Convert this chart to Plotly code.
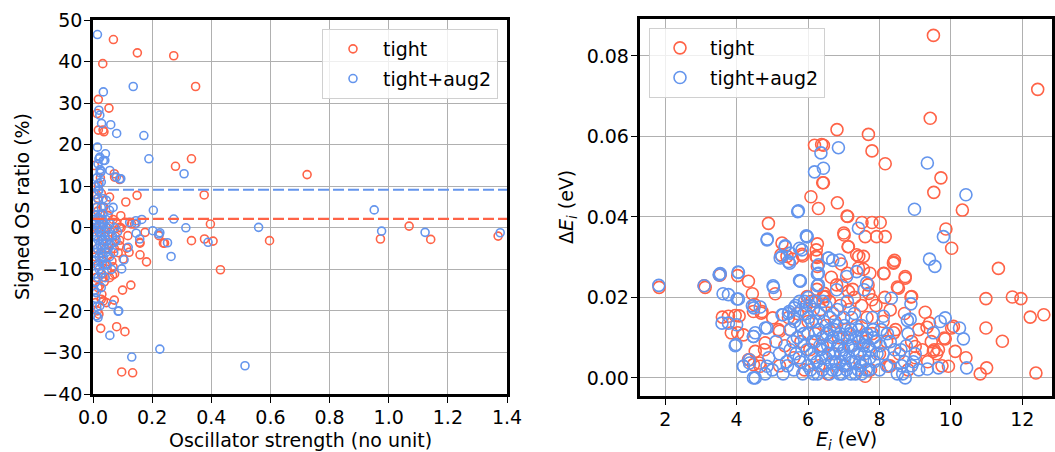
import plotly.graph_objects as go

# ---------------- Left panel data: oscillator strength vs signed OS ratio (%) ----------------
left_tight_x = [0.069, 0.033, 0.150, 0.273, 0.347, 0.018, 0.014, 0.054, 0.018, 0.037, 0.279, 0.333,
                0.376, 0.111, 0.149, 0.072, 0.397, 0.724, 0.597, 0.972, 1.069, 1.142, 1.370, 0.333,
                0.377, 0.406, 0.431, 0.238, 0.223, 0.181, 0.159, 0.159, 0.176, 0.128, 0.100, 0.072,
                0.108, 0.080, 0.026, 0.097, 0.134, 0.114, 0.122, 0.102, 0.068, 0.066, 0.020, 0.035,
                0.034, 0.073, 0.090, 0.056, 0.017, 0.034, 0.051, 0.094, 0.107, 0.141, 0.011, 0.028,
                0.028, 0.051, 0.073, 0.034, 0.017, 0.242, 0.158, 0.118, 0.090, 0.090, 0.130,
                0.004, 0.006, 0.008, 0.010, 0.012, 0.014, 0.016, 0.018, 0.020, 0.022, 0.024, 0.026,
                0.028, 0.030, 0.032, 0.034, 0.036, 0.038, 0.040, 0.042, 0.045, 0.048, 0.050, 0.053,
                0.056, 0.060, 0.064, 0.068, 0.072, 0.076, 0.080, 0.085, 0.090, 0.095, 0.012, 0.018,
                0.025, 0.005, 0.008, 0.015, 0.030, 0.045]
left_tight_y = [45.3, 39.5, 42.1, 41.4, 34.0, 30.9, 27.5, 28.8, 23.5, 23.1, 14.8, 16.6,
                7.9, 6.2, 7.8, 13.0, 0.9, 12.8, -3.1, -2.7, 0.4, -2.8, -2.0, -3.1,
                -2.7, -3.2, -10.1, -3.7, -1.9, -8.2, -6.5, -3.7, -1.1, -13.8, -15.0, -17.4,
                -25.0, -23.8, -24.2, -34.7, -34.9, -4.9, -5.9, -7.5, -9.4, -11.4, -20.8, -17.6,
                23.5, 12.2, 11.6, 7.4, 7.1, 4.9, 2.9, 2.9, 1.3, 0.9, 4.9, 8.3,
                -17.2, -6.7, -11.1, -11.9, -14.4, -3.7, -3.5, -1.9, -4.3, 0.1, 0.9,
                -2, 3, -7, -12, 0, -5, 4, -9, -1, -14, 2, -6,
                -11, 1, -3, -8, 5, -13, -2, -5, 0, -10, 3, -4,
                -12, -1, -8, 2, -5, -2, 1, -6, -3, 0, 8, 10,
                12, 15, -18, -20, -16, -18]

left_aug2_x = [0.015, 0.035, 0.136, 0.020, 0.029, 0.060, 0.080, 0.172, 0.189, 0.308, 0.015, 0.020,
               0.042, 0.035, 0.024, 0.057, 0.091, 0.020, 0.018, 0.204, 0.273, 0.145, 0.165, 0.560,
               0.951, 0.976, 1.123, 1.377, 0.514, 0.226, 0.131, 0.057, 0.085, 0.066, 0.012, 0.264,
               0.252, 0.226, 0.202, 0.314, 0.389, 0.097, 0.105, 0.119, 0.023, 0.040, 0.023, 0.028,
               0.028, 0.079, 0.094, 0.028, 0.017, 0.034, 0.045, 0.056, 0.068, 0.034, 0.017, 0.011,
               0.124, 0.146, 0.017, 0.087, 0.023, 0.011, 0.028, 0.158, 0.146, 0.222, 0.045, 0.073,
               0.003, 0.005, 0.004, 0.006, 0.007, 0.008, 0.009, 0.010, 0.011, 0.012, 0.013, 0.014,
               0.015, 0.016, 0.017, 0.018, 0.019, 0.020, 0.021, 0.022, 0.023, 0.024, 0.025, 0.026,
               0.027, 0.028, 0.029, 0.030, 0.031, 0.032, 0.033, 0.034, 0.035, 0.036, 0.038, 0.040,
               0.041, 0.043, 0.044, 0.046, 0.048, 0.050, 0.052, 0.054, 0.056, 0.058, 0.060, 0.063,
               0.066, 0.070, 0.074, 0.078, 0.083, 0.004, 0.009, 0.013, 0.006, 0.010, 0.013, 0.016,
               0.020, 0.024]
left_aug2_y = [46.5, 32.7, 34.0, 28.3, 25.1, 24.8, 22.7, 22.2, 16.6, 13.0, 19.4, 16.6,
               17.8, 16.2, 13.2, 13.8, 11.8, 10.7, 9.0, 4.2, 2.1, 1.7, 2.0, 0.1,
               4.3, -0.8, -1.1, -1.2, -33.2, -29.2, -31.1, -25.9, -20.1, -18.5, -21.2, -6.9,
               -3.6, -1.2, -0.7, 0.0, -3.5, -9.9, -7.7, -4.7, 27.1, 16.2, 17.0, 13.6,
               11.0, 12.2, 11.8, 4.9, 2.5, 7.0, 6.6, 4.2, 4.9, 3.4, -21.6, 1.3,
               1.3, 1.1, 15.4, -20.0, -18.8, -15.6, -14.4, -2.7, -1.3, -1.5, -8.7, -3.5,
               -1, -4, 2, -8, -11, 1, -6, -13, 3, -2, -9, 5,
               -5, 0, -12, -3, 2, -7, -10, 1, -4, -1, -8, 3,
               -6, -2, -11, 0, -5, 2, -9, -3, -7, 1, -4, -1,
               -12, -6, 2, -3, -9, 0, -5, -2, -7, 1, -4, -10,
               -2, -6, 0, -3, -1, -15, -17, -19, 8, 10, 12, 7,
               9, 14]

left_tight_mean = 2.15
left_aug2_mean = 9.15

# ---------------- Right panel data: E_i (eV) vs Delta E_i (eV) ----------------
right_tight_x = [9.51, 12.43, 9.42, 6.81, 7.69, 7.79, 8.16, 9.72, 9.52, 10.32, 9.86, 10.02,
                 11.33, 10.98, 11.72, 11.96, 12.22, 12.60, 10.98, 11.44, 12.38, 10.82, 11.00, 10.42,
                 10.02, 10.12, 9.81, 9.53, 9.28, 9.33, 8.72, 8.50, 8.88, 8.42, 8.12, 8.02,
                 7.92, 8.16, 7.51, 7.79, 7.00, 7.09, 6.82, 7.12, 7.42, 7.55, 8.39, 9.84,
                 10.07, 9.93, 9.65, 9.51, 9.40, 8.90,
                 1.83, 3.09, 3.54, 4.03, 4.33, 4.44, 5.08, 4.89, 3.60, 3.96, 3.85, 4.03,
                 4.47, 4.71, 5.01, 5.17, 5.27, 5.41, 5.57, 5.85, 6.08, 6.18, 6.43, 6.43,
                 6.29, 6.26, 6.25, 6.26, 6.43, 5.97, 4.33, 4.47, 4.66, 4.78, 4.80,
                 6.38, 6.41, 7.11, 7.01, 7.13, 6.22, 7.60, 7.36, 6.93, 7.41, 8.12, 8.40,
                 8.72, 8.53, 7.73, 7.68, 6.80, 7.13, 6.48, 7.79, 8.30, 9.00, 8.25, 7.60, 8.40,
                 3.12, 3.52, 4.50, 4.69, 3.77, 4.07, 4.19, 5.20, 5.24, 5.83, 6.23, 4.36,
                 4.64, 4.52,
                 5.20, 5.35, 5.50, 5.60, 5.70, 5.80, 5.90, 6.00, 6.05, 6.10, 6.20, 6.30,
                 6.35, 6.40, 6.50, 6.55, 6.60, 6.70, 6.75, 6.85, 6.90, 7.00, 7.05, 7.15,
                 7.20, 7.30, 7.35, 7.45, 7.50, 7.60, 7.65, 7.75, 7.80, 7.90, 8.00, 8.10,
                 8.20, 8.30, 8.45, 8.55, 8.70, 8.80, 8.90, 9.00, 9.10, 9.20, 9.35, 9.45,
                 9.60, 9.75, 6.25, 6.45, 6.95, 7.25, 7.70, 8.15, 5.45, 5.95, 6.65, 7.10, 7.55]
right_tight_y = [0.0851, 0.0717, 0.0645, 0.0617, 0.0605, 0.0564, 0.0532, 0.0497, 0.0461, 0.0417, 0.0370, 0.0322,
                 0.0272, 0.0197, 0.0201, 0.0197, 0.0151, 0.0157, 0.0124, 0.0091, 0.0012, 0.0010, 0.0025, 0.0050,
                 0.0124, 0.0066, 0.0099, 0.0070, 0.0163, 0.0126, 0.0252, 0.0226, 0.0201, 0.0292, 0.0259, 0.0386,
                 0.0351, 0.0351, 0.0386, 0.0386, 0.0360, 0.0402, 0.0435, 0.0326, 0.0302, 0.0302, 0.0285, 0.0097,
                 0.0128, 0.0029, 0.0070, 0.0066, 0.0136, 0.0202,
                 0.0225, 0.0229, 0.0256, 0.0254, 0.0240, 0.0209, 0.0209, 0.0384, 0.0151, 0.0155, 0.0112, 0.0112,
                 0.0165, 0.0165, 0.0149, 0.0120, 0.0335, 0.0302, 0.0295, 0.0303, 0.0450, 0.0578, 0.0578, 0.0485,
                 0.0421, 0.0333, 0.0299, 0.0277, 0.0202, 0.0202, 0.0045, 0.0033, 0.0029, 0.0070, 0.0087,
                 0.0580, 0.0485, 0.0401, 0.0355, 0.0326, 0.0302, 0.0351, 0.0306, 0.0283, 0.0273, 0.0260, 0.0287,
                 0.0248, 0.0223, 0.0260, 0.0231, 0.0231, 0.0215, 0.0202, 0.0194, 0.0169, 0.0078, 0.0029, 0.0004, 0.0112,
                 0.0225, 0.0256, 0.0182, 0.0161, 0.0153, 0.0154, 0.0107, 0.0116, 0.0306, 0.0307, 0.0318, 0.0045,
                 0.0037, 0.0066,
                 0.003, 0.008, 0.012, 0.005, 0.016, 0.009, 0.002, 0.014, 0.007, 0.019, 0.011, 0.003,
                 0.017, 0.008, 0.013, 0.001, 0.019, 0.006, 0.014, 0.010, 0.018, 0.003, 0.012, 0.017,
                 0.008, 0.020, 0.013, 0.004, 0.018, 0.009, 0.015, 0.002, 0.011, 0.018, 0.006, 0.014,
                 0.009, 0.003, 0.012, 0.006, 0.016, 0.002, 0.009, 0.005, 0.012, 0.007, 0.004, 0.009,
                 0.006, 0.003, 0.022, 0.021, 0.023, 0.022, 0.021, 0.020, 0.015, 0.018, 0.025, 0.026, 0.027]

right_aug2_x = [6.85, 9.34, 10.42, 8.98, 9.79, 9.40, 9.55, 7.41, 6.57, 6.69, 10.35, 10.24,
                10.44, 9.65, 9.51, 9.70, 9.84, 8.88, 8.33, 8.86, 8.78, 8.11, 9.34, 8.72,
                6.88, 6.29, 6.29, 7.36, 7.08, 7.64, 7.57, 6.80, 5.97, 5.83, 5.78,
                1.82, 3.09, 3.54, 3.62, 4.04, 4.01, 3.59, 4.00, 3.98, 4.19, 4.35, 4.47,
                4.47, 4.44, 4.52, 4.85, 4.86, 5.02, 5.36, 5.22, 5.48, 5.73, 5.76, 5.78,
                5.97, 6.18, 6.36, 6.43, 6.29, 6.26, 6.26, 6.57, 5.27,
                5.71, 4.85, 5.95, 5.36, 5.27, 5.50, 5.45, 5.76, 3.51, 4.05, 3.77, 4.05,
                5.03, 4.48, 4.66, 3.77, 3.96, 4.47, 4.80, 4.19, 4.52, 4.36, 4.85, 5.30,
                5.47, 5.61, 5.76,
                5.30, 5.40, 5.50, 5.60, 5.70, 5.75, 5.80, 5.85, 5.90, 5.95, 6.00, 6.00,
                6.05, 6.10, 6.10, 6.15, 6.20, 6.20, 6.25, 6.30, 6.30, 6.35, 6.40, 6.40,
                6.45, 6.50, 6.50, 6.55, 6.60, 6.60, 6.65, 6.70, 6.70, 6.75, 6.80, 6.80,
                6.85, 6.90, 6.90, 6.95, 7.00, 7.00, 7.05, 7.10, 7.10, 7.15, 7.20, 7.20,
                7.25, 7.30, 7.30, 7.35, 7.40, 7.45, 7.50, 7.50, 7.55, 7.60, 7.65, 7.70,
                7.75, 7.80, 7.85, 7.90, 8.00, 8.05, 8.10, 8.20, 8.30, 8.40, 8.50, 8.60,
                8.65, 8.70, 8.80, 8.90, 9.00, 9.10, 5.50, 5.60, 5.20, 5.10, 5.00, 4.90,
                4.80, 5.45, 5.65, 5.90, 6.00, 6.15,
                5.42, 5.58, 5.66, 5.78, 5.88, 5.97, 6.07, 6.12, 6.18, 6.27, 6.33, 6.38,
                6.47, 6.52, 6.58, 6.63, 6.68, 6.73, 6.78, 6.83, 6.88, 6.93, 6.98, 7.03,
                7.08, 7.13, 7.18, 7.23, 7.28, 7.33, 7.38, 7.43, 7.48, 7.53, 7.58, 7.63,
                7.68, 7.73, 7.83, 7.93, 5.62, 5.82, 6.02, 6.22, 6.42, 6.62, 6.82, 7.02,
                7.22, 7.42, 7.62, 7.82, 8.02, 8.22, 8.42, 8.62, 8.75, 8.95]
right_aug2_y = [0.0572, 0.0534, 0.0455, 0.0419, 0.0351, 0.0295, 0.0277, 0.0372, 0.0298, 0.0292, 0.0097, 0.0124,
                0.0025, 0.0025, 0.0112, 0.0140, 0.0149, 0.0184, 0.0198, 0.0146, 0.0143, 0.0153, 0.0022, 0.0000,
                0.0293, 0.0260, 0.0231, 0.0264, 0.0252, 0.0236, 0.0219, 0.0219, 0.0351, 0.0318, 0.0240,
                0.0230, 0.0229, 0.0259, 0.0209, 0.0263, 0.0196, 0.0136, 0.0132, 0.0083, 0.0029, 0.0045, 0.0000,
                0.0103, 0.0179, 0.0112, 0.0124, 0.0345, 0.0229, 0.0328, 0.0298, 0.0285, 0.0415, 0.0322, 0.0241,
                0.0351, 0.0512, 0.0559, 0.0521, 0.0281, 0.0258, 0.0229, 0.0298, 0.0157,
                0.0413, 0.0343, 0.0353, 0.0326, 0.0302, 0.0310, 0.0289, 0.0242, 0.0256, 0.0262, 0.0207, 0.0196,
                0.0225, 0.0174, 0.0176, 0.0136, 0.0080, 0.0103, 0.0124, 0.0029, 0.0000, 0.0037, 0.0029, 0.0157,
                0.0165, 0.0174, 0.0190,
                0.001, 0.004, 0.007, 0.002, 0.010, 0.005, 0.013, 0.001, 0.008, 0.016, 0.003, 0.011,
                0.018, 0.006, 0.014, 0.001, 0.009, 0.019, 0.004, 0.012, 0.016, 0.007, 0.002, 0.010,
                0.014, 0.005, 0.018, 0.008, 0.001, 0.012, 0.004, 0.010, 0.016, 0.006, 0.002, 0.013,
                0.008, 0.004, 0.011, 0.001, 0.007, 0.015, 0.003, 0.010, 0.019, 0.005, 0.012, 0.001,
                0.008, 0.004, 0.016, 0.010, 0.002, 0.006, 0.013, 0.001, 0.008, 0.004, 0.011, 0.002,
                0.007, 0.015, 0.004, 0.009, 0.002, 0.012, 0.006, 0.003, 0.009, 0.005, 0.001, 0.007,
                0.001, 0.004, 0.011, 0.003, 0.006, 0.002, 0.012, 0.015, 0.006, 0.009, 0.002, 0.005,
                0.001, 0.016, 0.018, 0.019, 0.020, 0.017,
                0.003, 0.009, 0.006, 0.004, 0.011, 0.007, 0.002, 0.009, 0.005, 0.001, 0.008, 0.005,
                0.003, 0.011, 0.006, 0.009, 0.002, 0.012, 0.004, 0.008, 0.001, 0.006, 0.010, 0.005,
                0.002, 0.008, 0.011, 0.004, 0.007, 0.001, 0.006, 0.009, 0.003, 0.010, 0.006, 0.002,
                0.008, 0.005, 0.010, 0.006, 0.014, 0.017, 0.015, 0.014, 0.019, 0.015, 0.017, 0.013,
                0.015, 0.012, 0.010, 0.012, 0.008, 0.011, 0.007, 0.003, 0.008, 0.004]

assert len(left_tight_x) == len(left_tight_y)
assert len(left_aug2_x) == len(left_aug2_y)
assert len(right_tight_x) == len(right_tight_y)
assert len(right_aug2_x) == len(right_aug2_y)

series_names = ["tight", "tight+aug2"]
colors = ["#FF6347", "#6495ED"]
axis_titles = {
    "left_x": "Oscillator strength (no unit)",
    "left_y": "Signed OS ratio (%)",
    "right_x": "<i>E</i><sub><i>i</i></sub> (eV)",
    "right_y": "Δ<i>E</i><sub><i>i</i></sub> (eV)",
}

# ---------------- Figure ----------------
W, H = 1055, 452
FONT = "DejaVu Sans"
FS = 19
fig = go.Figure()

def add_scatter(x, y, name, color, size, xa, ya, legend):
    fig.add_trace(go.Scatter(
        x=x, y=y, mode="markers", name=name, xaxis=xa, yaxis=ya, legend=legend,
        legendgroup=legend + name,
        marker=dict(symbol="circle-open", size=size, color=color, line=dict(width=1.6, color=color)),
    ))

add_scatter(left_tight_x, left_tight_y, series_names[0], colors[0], 8, "x", "y", "legend")
add_scatter(left_aug2_x, left_aug2_y, series_names[1], colors[1], 8, "x", "y", "legend")
add_scatter(right_tight_x, right_tight_y, series_names[0], colors[0], 12, "x2", "y2", "legend2")
add_scatter(right_aug2_x, right_aug2_y, series_names[1], colors[1], 12, "x2", "y2", "legend2")

for val, c in [(left_tight_mean, colors[0]), (left_aug2_mean, colors[1])]:
    fig.add_shape(type="line", xref="x domain", yref="y", x0=0, x1=1, y0=val, y1=val,
                  line=dict(color=c, width=2.2, dash="11px,4px"), layer="above")

axis_common = dict(
    showline=True, linecolor="black", linewidth=2.5, mirror=True,
    ticks="outside", ticklen=6, tickwidth=1.3, tickcolor="black", ticklabelstandoff=-2,
    showgrid=True, gridcolor="#b0b0b0", gridwidth=1.1, zeroline=False, automargin=False,
    tickfont=dict(family=FONT, size=FS, color="black"),
)

# axis title annotations (paper coordinates computed from pixel centres)
title_font = dict(family=FONT, size=FS, color="black")
for text, xc, yc, ang in [
    (axis_titles["left_x"], 300, 440, 0),
    (axis_titles["right_x"], 846, 440, 0),
    (axis_titles["left_y"], 22, 207, -90),
    (axis_titles["right_y"], 567, 207, -90),
]:
    fig.add_annotation(text=text, xref="paper", yref="paper", x=xc / W, y=1 - yc / H,
                       xanchor="center", yanchor="middle", showarrow=False, textangle=ang,
                       font=title_font)

fig.update_layout(
    width=W, height=H, margin=dict(l=0, r=0, t=0, b=0),
    paper_bgcolor="white", plot_bgcolor="white",
    font=dict(family=FONT, size=FS, color="black"),
    xaxis=dict(domain=[93 / W, 507 / W], anchor="y", range=[0, 1.4], dtick=0.2, tick0=0,
               tickformat=".1f", **axis_common),
    yaxis=dict(domain=[(H - 394) / H, (H - 20) / H], anchor="x", range=[-40, 50], dtick=10,
               **axis_common),
    xaxis2=dict(domain=[639.5 / W, 1052 / W], anchor="y2", range=[1.28, 12.83], dtick=2, tick0=0,
                **axis_common),
    yaxis2=dict(domain=[(H - 396) / H, (H - 18.5) / H], anchor="x2", range=[-0.0045, 0.0893],
                dtick=0.02, tick0=0, tickformat=".2f", **axis_common),
    legend=dict(x=498 / W, y=1 - 29 / H, xanchor="right", yanchor="top",
                bgcolor="rgba(255,255,255,0.8)", bordercolor="#d0d0d0", borderwidth=1,
                font=dict(family=FONT, size=FS), itemwidth=50, tracegroupgap=2),
    legend2=dict(x=649 / W, y=1 - 28 / H, xanchor="left", yanchor="top",
                 bgcolor="rgba(255,255,255,0.8)", bordercolor="#d0d0d0", borderwidth=1,
                 font=dict(family=FONT, size=FS), itemwidth=50, tracegroupgap=2),
)

fig.write_html("out.html")
